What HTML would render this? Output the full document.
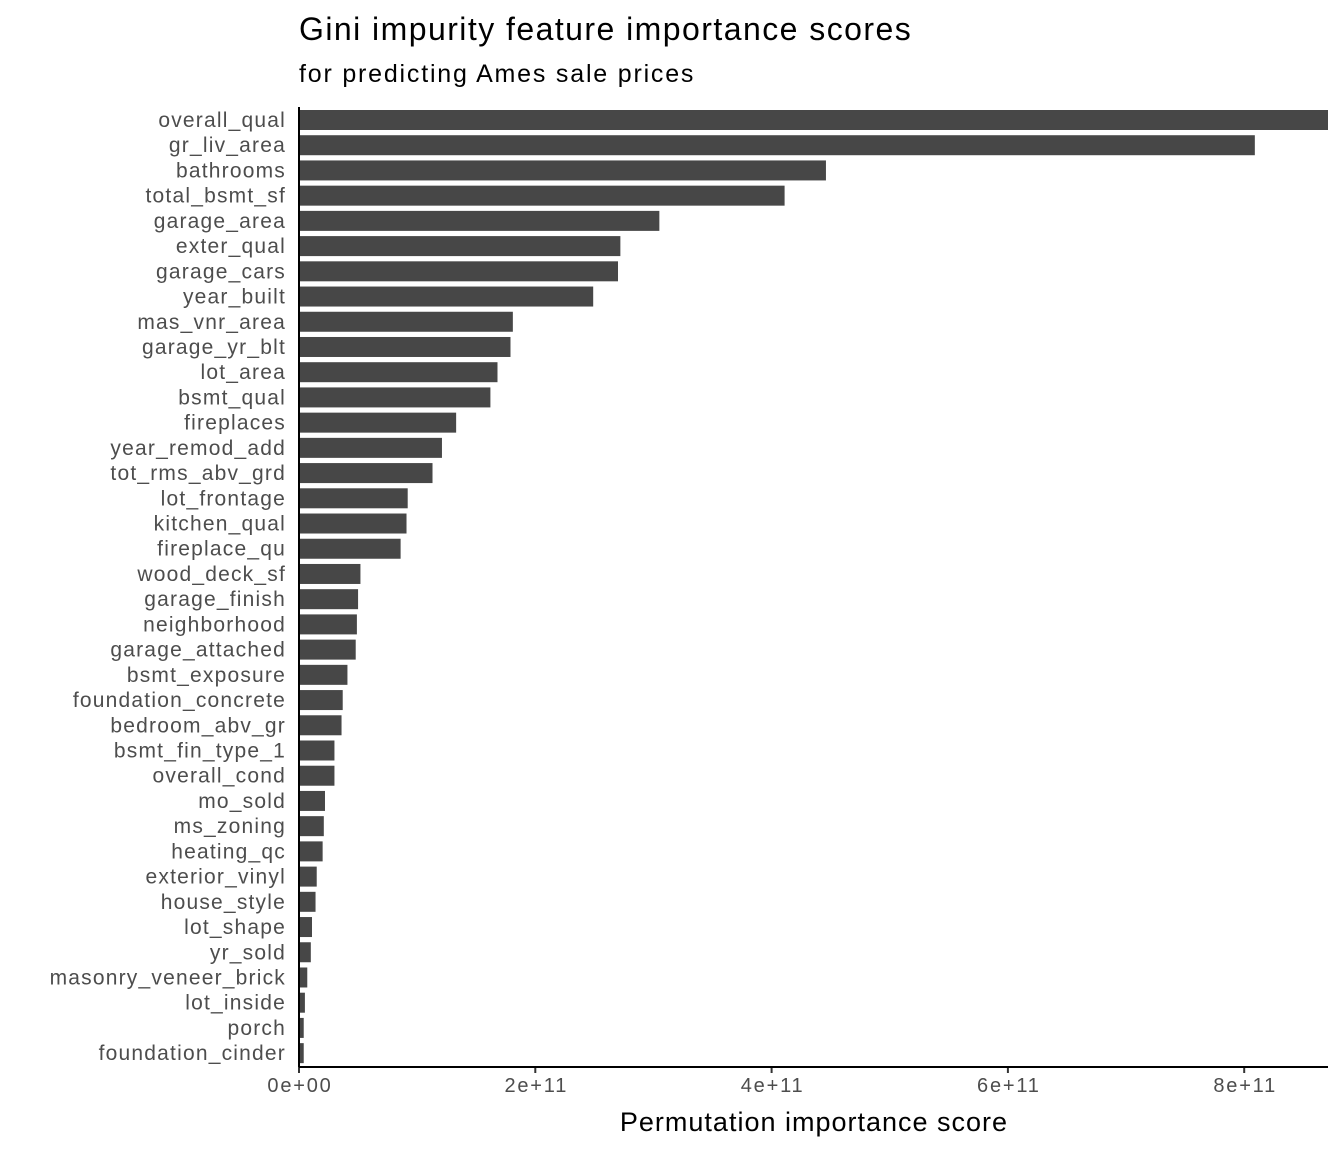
<!DOCTYPE html>
<html><head><meta charset="utf-8"><style>
body{margin:0;background:#fff;}
svg{display:block;font-family:"Liberation Sans",Arial,sans-serif;}
</style></head><body>
<svg id="chart" width="1344" height="1152">
<text x="299" y="40" font-size="32" letter-spacing="1.45" fill="#000">Gini impurity feature importance scores</text>
<text x="299" y="82" font-size="25" letter-spacing="1.8" fill="#000">for predicting Ames sale prices</text>
<g id="bars"></g><g id="ylabels"></g><g id="xticks"></g>
<line x1="299" y1="1067" x2="1328" y2="1067" stroke="#000" stroke-width="2"/>
<line x1="299" y1="107" x2="299" y2="1067" stroke="#000" stroke-width="2"/>
<text x="814" y="1131" font-size="27" letter-spacing="1" text-anchor="middle" fill="#000">Permutation importance score</text>
</svg>
<script>
const features=["overall_qual","gr_liv_area","bathrooms","total_bsmt_sf","garage_area","exter_qual","garage_cars","year_built","mas_vnr_area","garage_yr_blt","lot_area","bsmt_qual","fireplaces","year_remod_add","tot_rms_abv_grd","lot_frontage","kitchen_qual","fireplace_qu","wood_deck_sf","garage_finish","neighborhood","garage_attached","bsmt_exposure","foundation_concrete","bedroom_abv_gr","bsmt_fin_type_1","overall_cond","mo_sold","ms_zoning","heating_qc","exterior_vinyl","house_style","lot_shape","yr_sold","masonry_veneer_brick","lot_inside","porch","foundation_cinder"];
const scores=[8.71,8.09,4.46,4.11,3.05,2.72,2.70,2.49,1.81,1.79,1.68,1.62,1.33,1.21,1.13,0.92,0.91,0.86,0.52,0.50,0.49,0.48,0.41,0.37,0.36,0.30,0.30,0.22,0.21,0.20,0.15,0.14,0.11,0.10,0.07,0.05,0.04,0.04];
const tickValues=[0,2,4,6,8];
const tickLabels=["0e+00","2e+11","4e+11","6e+11","8e+11"];
const NS="http://www.w3.org/2000/svg";
const xScale=v=>299+v*118.15;
const yScale=i=>120+i*25.22;
const bars=document.getElementById('bars'),yl=document.getElementById('ylabels'),xt=document.getElementById('xticks');
features.forEach((f,i)=>{
 const r=document.createElementNS(NS,'rect');
 r.setAttribute('x',299);r.setAttribute('y',yScale(i)-10);
 r.setAttribute('width',Math.min(xScale(scores[i]),1328)-299);r.setAttribute('height',20);
 r.setAttribute('fill','#474747');
 
 
 bars.appendChild(r);
 const t=document.createElementNS(NS,'text');
 t.setAttribute('x',286);t.setAttribute('y',yScale(i)+7);t.setAttribute('text-anchor','end');
 t.setAttribute('font-size','21');t.setAttribute('letter-spacing','1.2');t.setAttribute('fill','#4d4d4d');t.textContent=f;
 
 
 yl.appendChild(t);
});
tickValues.forEach((v,i)=>{
 const x=xScale(v);
 const l=document.createElementNS(NS,'line');
 l.setAttribute('x1',x);l.setAttribute('x2',x);l.setAttribute('y1',1067);l.setAttribute('y2',1073);
 l.setAttribute('stroke','#333');l.setAttribute('stroke-width','2');
 
 
 xt.appendChild(l);
 const t=document.createElementNS(NS,'text');
 t.setAttribute('x',x+1);t.setAttribute('y',1092);t.setAttribute('text-anchor','middle');
 t.setAttribute('font-size','20');t.setAttribute('letter-spacing','1.8');t.setAttribute('fill','#4d4d4d');t.textContent=tickLabels[i];
 
 
 xt.appendChild(t);
});
</script>
</body></html>
